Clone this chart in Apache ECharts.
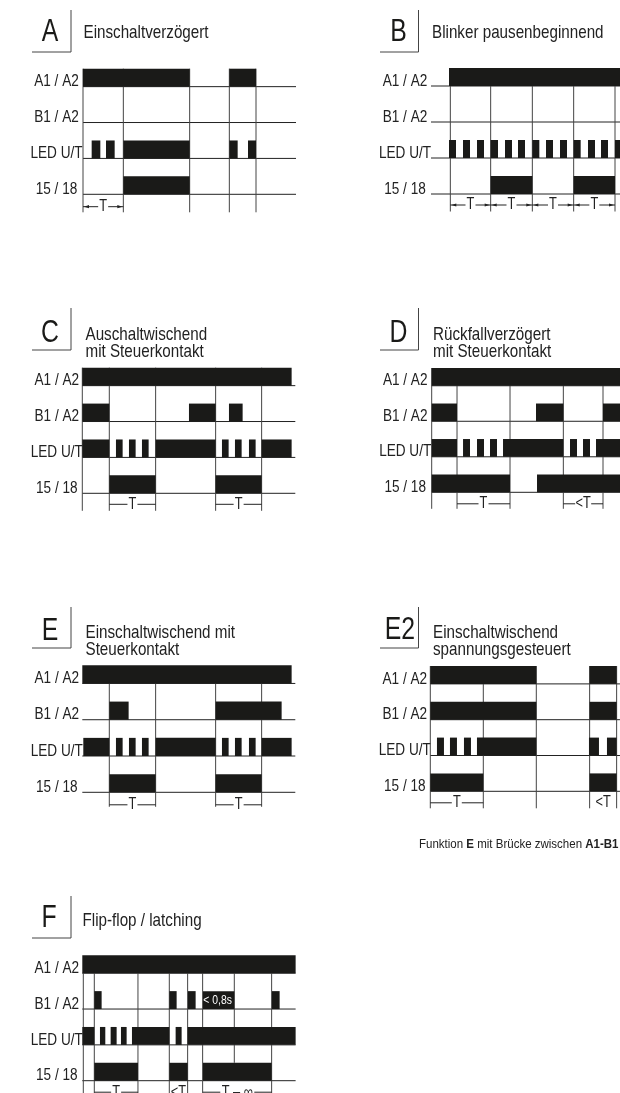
<!DOCTYPE html>
<html><head><meta charset="utf-8">
<style>html,body{margin:0;padding:0;background:#fff}#c{width:620px;height:1093px}</style>
<script src="https://cdn.jsdelivr.net/npm/echarts@6/dist/echarts.min.js"></script>
</head><body><div id="c"></div>
<script>
var FONT='"Liberation Sans",sans-serif';
var NARROW=0.8;
var INK='#1a1a18';
// row labels, top to bottom
var rowLabels=['A1 / A2','B1 / A2','LED U/T','15 / 18'];
// time unit: arbitrary, counted from each diagram's left edge
var spanA=639, spanB=567, spanC=639, spanD=565, spanE=639, spanE2=569, spanF=640;

var a_A1=[[0,320],[439,519]];
var a_B1=[];
var a_LED=[[26,52],[69,95],[121,320],[439,464],[495,519]];
var a_OUT=[[121,320]];
var a_marks=[0,121,320,439,519];
var a_dims=[[0,121,'T',1]];

var b_A1=[[54,567]];
var b_B1=[];
var b_LED=[[54,75],[96,117],[138,159],[179,201],[222,243],[261,282],[304,325],[345,366],[387,408],[428,449],[471,492],[510,531],[552,567]];
var b_OUT=[[179,304],[428,552]];
var b_marks=[58,179,304,428,552];
var b_dims=[[58,179,'T',1],[179,304,'T',1],[304,428,'T',1],[428,552,'T',1]];

var c_A1=[[0,628]];
var c_B1=[[0,81],[320,400],[440,481]];
var c_LED=[[0,81],[101,121],[140,160],[179,199],[220,400],[419,439],[458,478],[500,520],[538,628]];
var c_OUT=[[81,220],[400,538]];
var c_marks=[0,81,220,400,538];
var c_dims=[[81,220,'T',0],[400,538,'T',0]];

var d_A1=[[0,565]];
var d_B1=[[0,76],[313,395],[514,565]];
var d_LED=[[0,76],[94,115],[136,157],[175,196],[214,395],[415,436],[454,475],[493,565]];
var d_OUT=[[0,235],[316,565]];
var d_marks=[0,76,235,395,514];
var d_dims=[[76,235,'T',0],[395,514,'<T',0]];

var e_A1=[[0,628]];
var e_B1=[[81,139],[400,598]];
var e_LED=[[3,81],[101,121],[140,160],[179,199],[220,400],[419,439],[458,478],[500,520],[538,628]];
var e_OUT=[[81,220],[400,538]];
var e_marks=[81,220,400,538];
var e_dims=[[81,220,'T',0],[400,538,'T',0]];

var e2_A1=[[0,318],[478,559]];
var e2_B1=[[0,318],[478,559]];
var e2_LED=[[20,41],[59,80],[101,122],[140,318],[476,506],[530,559]];
var e2_OUT=[[0,159],[478,559]];
var e2_marks=[0,159,318,478,559];
var e2_dims=[[0,159,'T',0],[478,559,'<T',2]];

var f_A1=[[0,640]];
var f_B1=[[36,58],[261,283],[317,340],[362,456],[569,592]];
var f_LED=[[0,36],[53,69],[85,103],[116,133],[149,261],[280,298],[316,640]];
var f_OUT=[[36,167],[261,316],[362,568]];
var f_marks=[3,36,167,261,316,361,568];
var f_shortMarks=[456];
var f_dims=[[36,167,'T',0],[261,316,'<T',2],[362,568,'T – ∞',0]];

var panels=[
 {letter:'A', sub:['Einschaltverzögert'], span:spanA, rows:[a_A1,a_B1,a_LED,a_OUT], marks:a_marks, dims:a_dims,
  x:83,top:68.7,bottom:194.3,lm:26.5,markTop:3.5,markBottom:18,dimY:12.4,cx:71,cy:52,cl:32,ct:10,lx:50,ly:32,sx:83.5,sy:33},
 {letter:'B', sub:['Blinker pausenbeginnend'], span:spanB, rows:[b_A1,b_B1,b_LED,b_OUT], marks:b_marks, dims:b_dims,
  x:431,top:68,bottom:194,lm:26,markTop:3.5,markBottom:17.5,dimY:11,cx:418.5,cy:52,cl:380,ct:10,lx:398.5,ly:32,sx:432,sy:33},
 {letter:'C', sub:['Auschaltwischend','mit Steuerkontakt'], span:spanC, rows:[c_A1,c_B1,c_LED,c_OUT], marks:c_marks, dims:c_dims,
  x:82.3,top:367.7,bottom:493.3,lm:25.5,markTop:3.5,markBottom:17.5,dimY:11,cx:71,cy:350,cl:32,ct:308,lx:50,ly:333,sx:85.5,sy:335},
 {letter:'D', sub:['Rückfallverzögert','mit Steuerkontakt'], span:spanD, rows:[d_A1,d_B1,d_LED,d_OUT], marks:d_marks, dims:d_dims,
  x:431.7,top:368,bottom:492.3,lm:26.5,markTop:3.5,markBottom:16.5,dimY:11.5,cx:418.5,cy:350,cl:380,ct:308,lx:398.5,ly:333,sx:433,sy:335},
 {letter:'E', sub:['Einschaltwischend mit','Steuerkontakt'], span:spanE, rows:[e_A1,e_B1,e_LED,e_OUT], marks:e_marks, dims:e_dims,
  x:82.3,top:665.3,bottom:792.3,lm:25.5,markTop:3,markBottom:14.5,dimY:12.5,cx:71,cy:648,cl:32,ct:607,lx:50,ly:631,sx:85.5,sy:632.5},
 {letter:'E2', sub:['Einschaltwischend','spannungsgesteuert'], span:spanE2, rows:[e2_A1,e2_B1,e2_LED,e2_OUT], marks:e2_marks, dims:e2_dims,
  x:430.3,top:666,bottom:791.3,lm:25.5,markTop:3.5,markBottom:17,dimY:11.5,cx:418.5,cy:648,cl:380,ct:607,lx:400,ly:630,sx:433,sy:632.5},
 {letter:'F', sub:['Flip-flop / latching'], span:spanF, rows:[f_A1,f_B1,f_LED,f_OUT], marks:f_marks, shortMarks:f_shortMarks, dims:f_dims,
  x:82.3,top:955.3,bottom:1080.7,lm:25.5,markTop:3,markBottom:14,dimY:11.5,cx:71,cy:938,cl:32,ct:896,lx:49,ly:918,sx:82.5,sy:921}
];
var f_note=[[406,2.25,'< 0,8s']];

function nText(x,y,text,size,fill,align){
  return {type:'text',x:x,y:y,scaleX:NARROW,style:{x:0,y:0,text:text,textAlign:align,align:align,textVerticalAlign:'middle',verticalAlign:'middle',font:size+'px '+FONT,fill:fill}};
}
var grids=[],xAxes=[],yAxes=[],series=[],graphics=[];
panels.forEach(function(p,i){
  grids.push({left:p.x,top:p.top,width:p.span/3,height:p.bottom-p.top});
  xAxes.push({gridIndex:i,type:'value',min:0,max:p.span,show:false});
  yAxes.push({gridIndex:i,type:'value',min:0,max:3.5,show:false});
  // baselines and row labels
  series.push({type:'custom',xAxisIndex:i,yAxisIndex:i,clip:false,silent:true,z:1,
    data:rowLabels.map(function(_,k){return [0,3-k];}),
    renderItem:function(params,api){
      var a=api.coord([0,api.value(1)]), b=api.coord([p.span,api.value(1)]);
      var l=nText(a[0]-p.lm,a[1]-5,rowLabels[params.dataIndex],17,'#222','center');
      return {type:'group',children:[{type:'line',shape:{x1:a[0],y1:a[1],x2:b[0],y2:b[1]},style:{stroke:'#222',lineWidth:1}},l]};
    }});
  // vertical time marks
  var allMarks=p.marks.map(function(t){return [t,0];}).concat((p.shortMarks||[]).map(function(t){return [t,1];}));
  series.push({type:'custom',xAxisIndex:i,yAxisIndex:i,clip:false,silent:true,z:1,
    data:allMarks,
    renderItem:function(params,api){
      var a=api.coord([api.value(0),p.markTop]), b=api.coord([api.value(0),0]), s=api.coord([api.value(0),0.5]);
      var y2=api.value(1)?s[1]:b[1]+p.markBottom;
      return {type:'line',shape:{x1:a[0],y1:a[1],x2:a[0],y2:y2},style:{stroke:'#444',lineWidth:1}};
    }});
  // signal bars
  var bars=[];
  p.rows.forEach(function(r,ri){r.forEach(function(s){bars.push([3-ri,s[0],s[1]]);});});
  series.push({type:'custom',xAxisIndex:i,yAxisIndex:i,clip:false,silent:true,z:2,
    data:bars,
    renderItem:function(params,api){
      var a=api.coord([api.value(1),api.value(0)+0.5]), b=api.coord([api.value(2),api.value(0)]);
      return {type:'rect',shape:{x:a[0],y:a[1],width:b[0]-a[0],height:b[1]-a[1]},style:{fill:INK}};
    }});
  // T dimensions
  series.push({type:'custom',xAxisIndex:i,yAxisIndex:i,clip:false,silent:true,z:3,
    data:p.dims.map(function(d){return [d[0],d[1]];}),
    renderItem:function(params,api){
      var d=p.dims[params.dataIndex];
      var a=api.coord([api.value(0),0]), b=api.coord([api.value(1),0]), y=a[1]+p.dimY, cx=(a[0]+b[0])/2;
      var ch=[];
      var gap=d[2].length*3+2;
      if(d[3]!==2){
        ch.push({type:'line',shape:{x1:a[0],y1:y,x2:cx-gap,y2:y},style:{stroke:'#222',lineWidth:1}});
        ch.push({type:'line',shape:{x1:cx+gap,y1:y,x2:b[0],y2:y},style:{stroke:'#222',lineWidth:1}});
      }
      if(d[3]===1){
        ch.push({type:'polygon',shape:{points:[[a[0]+1,y],[a[0]+6,y-1.6],[a[0]+6,y+1.6]]},style:{fill:'#222'}});
        ch.push({type:'polygon',shape:{points:[[b[0]-1,y],[b[0]-6,y-1.6],[b[0]-6,y+1.6]]},style:{fill:'#222'}});
      }
      ch.push(nText(cx,y,d[2],16,'#222','center'));
      return {type:'group',children:ch};
    }});
  // heading
  graphics.push({type:'polyline',z:5,shape:{points:[[p.cx,p.ct],[p.cx,p.cy],[p.cl,p.cy]]},style:{fill:null,stroke:'#444',lineWidth:1}});
  graphics.push(Object.assign(nText(p.lx,p.ly,p.letter,31,'#1a1a18','center'),{z:5}));
  p.sub.forEach(function(s,k){
    graphics.push(Object.assign(nText(p.sx,p.sy+k*17,s,19,'#222','left'),{z:5}));
  });
});
// white note inside the F bar
var iF=panels.length-1;
series.push({type:'custom',xAxisIndex:iF,yAxisIndex:iF,clip:false,silent:true,z:6,
  data:f_note.map(function(n){return [n[0],n[1]];}),
  renderItem:function(params,api){
    var c=api.coord([api.value(0),api.value(1)]);
    return nText(c[0],c[1],f_note[params.dataIndex][2],13,'#fff','center');
  }});
graphics.push({type:'text',z:5,x:618.5,y:844,scaleX:0.885,style:{x:0,y:0,textAlign:'right',textVerticalAlign:'middle',
  rich:{r:{fontFamily:FONT,fontSize:13,fill:'#222'},b:{fontFamily:FONT,fontSize:13,fontWeight:'bold',fill:'#222'}},
  text:'{r|Funktion }{b|E}{r| mit Brücke zwischen }{b|A1-B1}'}});

var chart=echarts.init(document.getElementById('c'),null,{renderer:'canvas'});
chart.setOption({animation:false,backgroundColor:'#fff',grid:grids,xAxis:xAxes,yAxis:yAxes,series:series,graphic:{elements:graphics}});
</script></body></html>
